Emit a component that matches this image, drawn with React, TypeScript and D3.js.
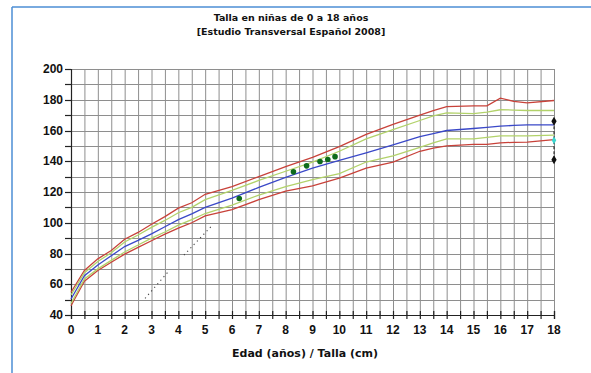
import React from 'react';
import * as d3 from 'd3';

// edades (años) de los puntos de cada percentil
const ages = [0, 0.5, 1, 1.5, 2, 2.5, 3, 3.5, 4, 4.5, 5, 6, 7, 8, 9, 10, 11, 12, 13, 13.5, 14, 15, 15.5, 16, 16.5, 17, 18];

const p3 = [46, 62, 68.9, 74.3, 79.6, 84, 88.3, 92.6, 96.5, 100, 104.5, 108.5, 115, 120.5, 124, 129, 135.5, 139.5, 146.5, 148.5, 150, 151, 151, 152, 152.3, 152.5, 154];
const p10 = [47.5, 63.5, 70, 75.5, 81, 85.5, 90, 94, 98.5, 102, 106, 111.5, 118, 123.5, 128, 132, 139.5, 143.5, 149, 152, 154.5, 154.5, 155.5, 156.5, 156.5, 156.5, 157];
const p50 = [50.4, 65.6, 72.5, 78.5, 84.5, 88.5, 92.8, 97.4, 102, 105.8, 110, 116, 123, 129.5, 135.5, 140.5, 145.5, 150.7, 156, 158, 160, 161.3, 162, 162.8, 163.3, 163.7, 163.7];
const p90 = [53, 67.5, 74.8, 80.5, 87.5, 92, 97, 101.5, 106.5, 110, 115, 121, 127.5, 133.5, 139.5, 146.5, 154.5, 160.5, 166.5, 169.5, 171.5, 171, 172, 173.5, 173.3, 173, 173];
const p97 = [54.8, 69, 76.5, 82, 89.3, 93.7, 99, 104, 109.5, 113, 118.5, 123.5, 130, 136.5, 142.5, 149.5, 157.5, 164, 170, 173, 175.5, 176, 176, 181, 179, 178, 179.5];

// mediciones de la niña
const measureAges = [6.27, 8.29, 8.78, 9.28, 9.57, 9.84];
const measureHeights = [115.8, 133.1, 137, 139.8, 141.1, 143];

// talla diana (18 años)
const targetAge = 18;
const targetRange = [166, 141];
const targetMid = 153.6;

// línea punteada de crecimiento
const dotAges = [[2.76, 3.63], [4.21, 5.28]];
const dotHeights = [[50.8, 68.3], [79, 98.6]];

const xTicks = d3.range(0, 19, 1);
const xMinor = d3.range(0, 18.5, 0.5);
const yTicks = d3.range(40, 201, 20);
const yMinor = d3.range(40, 201, 10);

const width = 591;
const height = 373;
const margin = { top: 69, right: 37, bottom: 58, left: 71 };

const RED = '#c8423a';
const GREEN = '#b2d26a';
const BLUE = '#3a48c8';

const App = () => {
  const x = d3.scaleLinear().domain([0, 18]).range([margin.left, width - margin.right]);
  const y = d3.scaleLinear().domain([40, 200]).range([height - margin.bottom, margin.top]);

  const line = (vals: number[]) =>
    d3.line<number>()
      .x((_, i) => x(ages[i]))
      .y((d) => y(d))(vals) || '';

  const curves = [
    { vals: p3, color: RED },
    { vals: p97, color: RED },
    { vals: p10, color: GREEN },
    { vals: p90, color: GREEN },
    { vals: p50, color: BLUE },
  ];

  const axisFont = '"Liberation Sans", Arial, sans-serif';
  const titleFont = '"DejaVu Sans", Verdana, sans-serif';

  return (
    <svg width={width} height={height} style={{ position: 'absolute', left: 0, top: 0, background: '#fff' }}>
      <rect x={0} y={0} width={width} height={height} fill="#fff" />
      {/* marco */}
      <line x1={12} x2={12} y1={7} y2={height} stroke="#4d8ed4" strokeWidth={1.5} />
      <line x1={12} x2={width} y1={7} y2={7} stroke="#4d8ed4" strokeWidth={1.5} />

      {/* titulo */}
      <text x={291} y={21} textAnchor="middle" fontFamily={titleFont} fontWeight="bold" fontSize={9.5} fill="#111">
        Talla en niñas de 0 a 18 años
      </text>
      <text x={291} y={35} textAnchor="middle" fontFamily={titleFont} fontWeight="bold" fontSize={9.5} fill="#111">
        [Estudio Transversal Español 2008]
      </text>

      {/* rejilla */}
      <g stroke="#8e8e8e" strokeWidth={1}>
        {xMinor.map((t) => (
          <line key={'gx' + t} x1={x(t) + 0.5} x2={x(t) + 0.5} y1={y(200)} y2={y(40)} />
        ))}
        <line x1={x(18) + 0.5} x2={x(18) + 0.5} y1={y(200)} y2={y(40)} />
        {yMinor.map((t) => (
          <line key={'gy' + t} x1={x(0)} x2={x(18)} y1={Math.round(y(t)) + 0.5} y2={Math.round(y(t)) + 0.5} />
        ))}
      </g>

      {/* ejes */}
      <g stroke="#222" strokeWidth={1.2}>
        <line x1={x(0) + 0.5} x2={x(0) + 0.5} y1={y(200)} y2={y(40) + 4} />
        <line x1={x(0) - 5} x2={x(18) + 1} y1={Math.round(y(40)) + 0.5} y2={Math.round(y(40)) + 0.5} />
        {yMinor.map((t) => (
          <line key={'ty' + t} x1={x(0) - 6} x2={x(0)} y1={Math.round(y(t)) + 0.5} y2={Math.round(y(t)) + 0.5} />
        ))}
        {xMinor.concat([18]).map((t) => (
          <line key={'tx' + t} x1={x(t) + 0.5} x2={x(t) + 0.5} y1={y(40) - 4} y2={y(40) + 4} />
        ))}
      </g>
      <g fontFamily={axisFont} fontWeight="bold" fontSize={12} fill="#111">
        {yTicks.map((t) => (
          <text key={'ly' + t} x={x(0) - 8} y={y(t) + 4} textAnchor="end">{t}</text>
        ))}
        {xTicks.map((t) => (
          <text key={'lx' + t} x={x(t)} y={y(40) + 19} textAnchor="middle">{t}</text>
        ))}
      </g>

      {/* percentiles */}
      {curves.map((c, i) => (
        <path key={'c' + i} d={line(c.vals)} fill="none" stroke={c.color} strokeWidth={1.3} />
      ))}

      {/* línea punteada */}
      {dotAges.map((a, i) => (
        <line key={'d' + i} x1={x(a[0])} x2={x(a[1])} y1={y(dotHeights[i][0])} y2={y(dotHeights[i][1])}
          stroke="#444" strokeWidth={1.1} strokeDasharray="1.2,3.5" />
      ))}

      {/* mediciones */}
      {measureAges.map((a, i) => (
        <circle key={'m' + i} cx={x(a)} cy={y(measureHeights[i])} r={2.8} fill="#0d6b1c" />
      ))}

      {/* talla diana */}
      <line x1={x(targetAge)} x2={x(targetAge)} y1={y(targetRange[0])} y2={y(targetRange[1])}
        stroke="#111" strokeWidth={1} strokeDasharray="3,2" />
      {targetRange.map((v, i) => (
        <path key={'t' + i} d={d3.symbol(d3.symbolDiamond, 24)() || ''} transform={`translate(${x(targetAge)},${y(v)})`} fill="#111" />
      ))}
      <path d={d3.symbol(d3.symbolDiamond, 18)() || ''} transform={`translate(${x(targetAge)},${y(targetMid)})`} fill="#3cd6d0" />

      <text x={305} y={357} textAnchor="middle" fontFamily={titleFont} fontWeight="bold" fontSize={11} fill="#111">
        Edad (años) / Talla (cm)
      </text>
    </svg>
  );
};

export default App;
